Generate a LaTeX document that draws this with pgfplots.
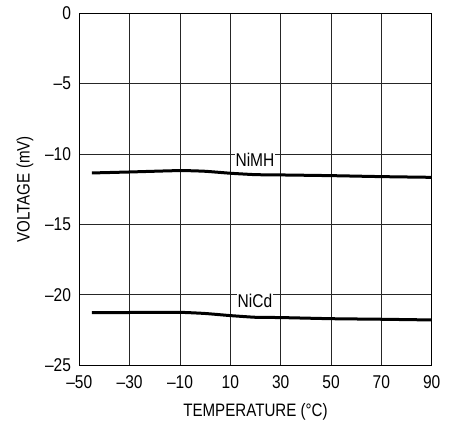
\documentclass[border=0pt]{standalone}
\usepackage{fontspec}
\setmainfont[FakeStretch=0.84]{Liberation Sans}
\usepackage{pgfplots}
\pgfplotsset{compat=1.18}

\begin{document}
\begin{tikzpicture}
  \fontsize{18.5}{20}\selectfont
  \begin{axis}[
      name=main,
      scale only axis,
      width=352.4pt, height=352pt,
      xmin=-50, xmax=90, ymin=-25, ymax=0,
      xtick={-50,-30,...,90},
      xticklabels={–50,–30,–10,10,30,50,70,90},
      ytick={-25,-20,...,0},
      yticklabels={–25,–20,–15,–10,–5,0},
      grid=major,
      grid style={black!85, line width=0.8pt},
      axis line style={line width=1.1pt},
      major tick length=0pt,
      tick label style={font=\fontsize{18.5}{20}\selectfont},
      label style={font=\fontsize{18}{20}\selectfont},
      xticklabel style={yshift=-4pt},
      yticklabel style={xshift=-2pt},
      xlabel={TEMPERATURE (°C)},
      ylabel={VOLTAGE (mV)},
      xlabel style={yshift=-2pt},
      ylabel style={yshift=-1pt},
    ]
    \addplot[black, line width=3pt, smooth, tension=0.3] coordinates {
      (-45,-11.34) (-30,-11.27) (-10,-11.17) (0,-11.22) (10,-11.36)
      (20,-11.46) (30,-11.48) (50,-11.53) (70,-11.60) (90,-11.65)
    };
    \addplot[black, line width=3pt, smooth, tension=0.3] coordinates {
      (-45,-21.26) (-30,-21.25) (-10,-21.24) (0,-21.32) (10,-21.47)
      (20,-21.59) (30,-21.61) (50,-21.69) (70,-21.73) (90,-21.78)
    };
    \node[fill=white, inner sep=1pt, font=\fontsize{18.5}{20}\selectfont]
      at (axis cs:19.8,-10.4) {NiMH};
    \node[fill=white, inner sep=1pt, font=\fontsize{18.5}{20}\selectfont]
      at (axis cs:19.8,-20.45) {NiCd};
  \end{axis}
  \pgfresetboundingbox
  \path[use as bounding box] (main.south west) ++(-79.3pt,-57.7pt)
    rectangle ++(453pt,423pt);
\end{tikzpicture}
\end{document}
